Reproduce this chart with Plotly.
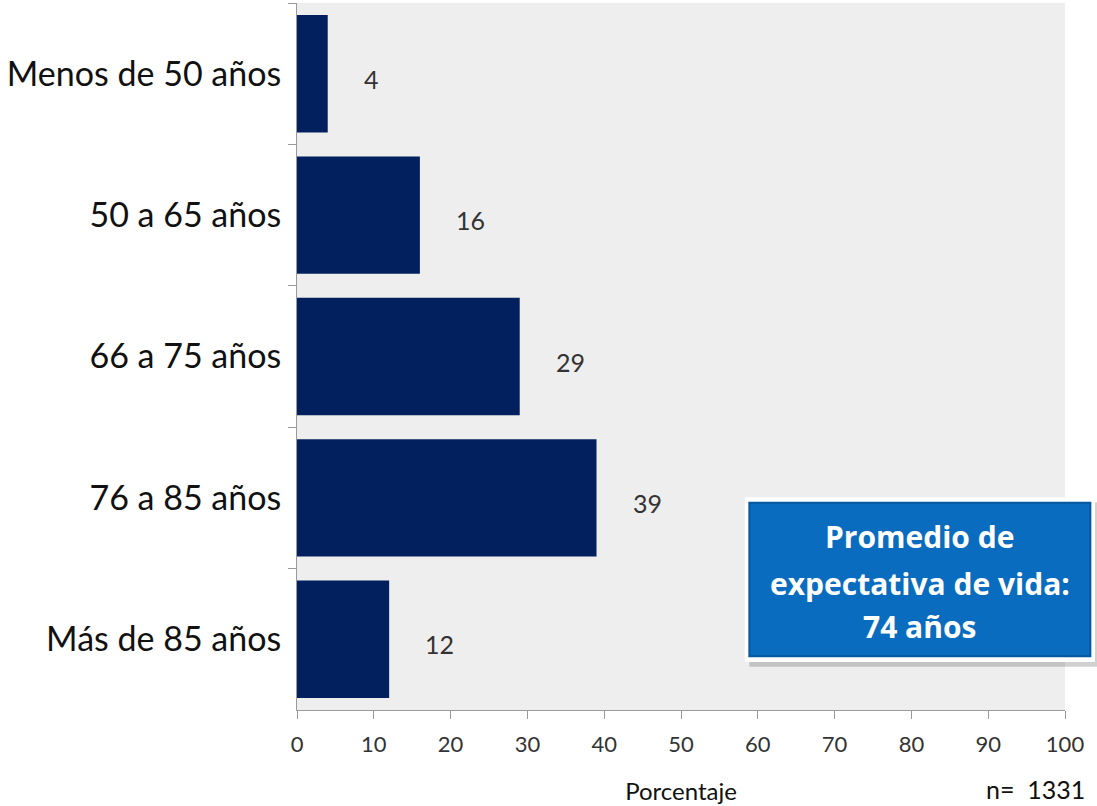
import plotly.graph_objects as go

categories = ["Menos de 50 años", "50 a 65 años", "66 a 75 años", "76 a 85 años", "Más de 85 años"]
values = [4, 16, 29, 39, 12]
x_ticks = [0, 10, 20, 30, 40, 50, 60, 70, 80, 90, 100]
box_lines = ["Promedio de", "expectativa de vida:", "74 años"]
n_text = "n=  1331"

FONT = "Lato, 'Open Sans', sans-serif"

fig = go.Figure()
fig.add_trace(go.Bar(
    x=values, y=categories, orientation="h",
    marker=dict(color="#03205e", line=dict(width=0)),
    width=0.83,
    hoverinfo="skip",
))

for c, v in zip(categories, values):
    fig.add_annotation(x=v, y=c, text=str(v), showarrow=False,
                       xanchor="left", xshift=34, yshift=-5,
                       font=dict(family=FONT, size=25, color="#333333"))

# Info box
fig.add_shape(type="rect", xref="paper", yref="paper",
              x0=0.589, x1=1.045, y0=0.061, y1=0.294,
              fillcolor="rgba(0,0,0,0.18)", line=dict(width=0), layer="above")
fig.add_shape(type="rect", xref="paper", yref="paper",
              x0=0.583, x1=1.039, y0=0.068, y1=0.301,
              fillcolor="white", line=dict(width=0), layer="above")
fig.add_shape(type="rect", xref="paper", yref="paper",
              x0=0.589, x1=1.033, y0=0.076, y1=0.293,
              fillcolor="#0a6cbf", line=dict(color="#0757a0", width=2), layer="above")
for line, yy in zip(box_lines, [0.2447, 0.1796, 0.1174]):
    fig.add_annotation(xref="paper", yref="paper", x=0.811, y=yy,
                       text="<b>" + line + "</b>", showarrow=False,
                       align="center", xanchor="center", yanchor="middle",
                       font=dict(family="'Open Sans', sans-serif", size=30, color="white"))

fig.add_annotation(xref="paper", yref="paper", x=0.961, y=-0.112,
                   text=n_text, showarrow=False, xanchor="center", yanchor="middle",
                   font=dict(family=FONT, size=25, color="#111111"))

fig.update_layout(
    width=1097, height=806,
    margin=dict(l=297, r=32, t=3, b=96),
    paper_bgcolor="white",
    plot_bgcolor="#eeeeee",
    showlegend=False,
    bargap=0.17,
    xaxis=dict(
        range=[0, 100], tickvals=x_ticks, showgrid=False, zeroline=False,
        showline=True, linecolor="#9a9a9a", linewidth=1,
        ticks="outside", ticklen=8, tickcolor="#9a9a9a",
        ticklabelstandoff=7,
        tickfont=dict(family=FONT, size=22, color="#333333"),
        title=dict(text="Porcentaje", standoff=26,
                   font=dict(family=FONT, size=24, color="#111111")),
        fixedrange=True,
    ),
    yaxis=dict(
        categoryorder="array", categoryarray=categories, autorange="reversed",
        showgrid=False, zeroline=False,
        showline=True, linecolor="#9a9a9a", linewidth=1,
        ticks="outside", ticklen=8, tickcolor="#9a9a9a", tickson="boundaries",
        ticklabelstandoff=8,
        tickfont=dict(family=FONT, size=34, color="#111111"),
        fixedrange=True,
    ),
)

fig.write_html("out.html", config={"displayModeBar": False},
               post_script="document.body.style.margin='0';")
